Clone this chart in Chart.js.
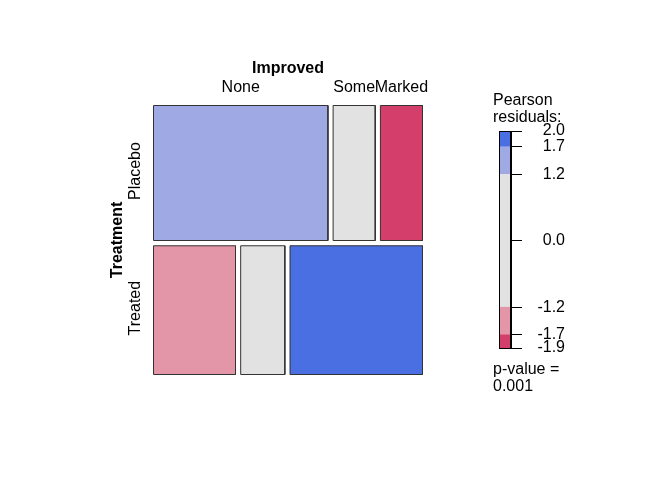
<!DOCTYPE html>
<html>
<head>
<meta charset="utf-8">
<script src="https://cdn.jsdelivr.net/npm/chart.js@4.4.1/dist/chart.umd.min.js"></script>
<style>
  html, body { margin: 0; padding: 0; background: #fff; }
  #wrap { position: relative; width: 672px; height: 480px; }
  #mosaic { position: absolute; left: 0; top: 0; }
  #legendBar { position: absolute; left: 499px; top: 111px; }
  .note { position: absolute; left: 493px; font: 16px "Liberation Sans", Arial, sans-serif; line-height: 17px; color: #000; }
</style>
</head>
<body>
<div id="wrap">
  <canvas id="mosaic" width="672" height="480"></canvas>
  <canvas id="legendBar" width="66" height="257"></canvas>
  <div class="note" style="top:91px">Pearson<br>residuals:</div>
  <div class="note" style="top:360px">p-value =<br>0.001</div>
</div>
<script>
// --- data ---
const treatments = ['Placebo', 'Treated'];
const improved = ['None', 'Some', 'Marked'];
const placeboCounts = [29, 7, 7];
const treatedCounts = [13, 7, 21];
const residualCuts = [1.2, 1.7];

const FONT = '"Liberation Sans", Arial, sans-serif';
Chart.defaults.font.family = FONT;
Chart.defaults.color = '#000';

const GAP = 0.02;
const rows = [placeboCounts, treatedCounts];
const rowTotals = rows.map(r => r.reduce((a, b) => a + b, 0));
const colTotals = improved.map((_, j) => rows.reduce((a, r) => a + r[j], 0));
const grand = rowTotals.reduce((a, b) => a + b, 0);

// pearson residuals
const resid = rows.map((r, i) => r.map((n, j) => {
    const e = rowTotals[i] * colTotals[j] / grand;
    return (n - e) / Math.sqrt(e);
}));
const flat = resid.flat();
const resMax = Math.max(...flat), resMin = Math.min(...flat);

const shade = r => {
    const a = Math.abs(r);
    if (a >= residualCuts[1]) return r > 0 ? '#4A6FE3' : '#D33F6A';
    if (a >= residualCuts[0]) return r > 0 ? '#9FA9E3' : '#E396A8';
    return '#E2E2E2';
};

// --- mosaic tiles ---
const tiles = [];
let y0 = 0;
rows.forEach((r, i) => {
    const h = rowTotals[i] / grand;
    let x0 = 0;
    r.forEach((n, j) => {
        const w = n / rowTotals[i];
        tiles.push({ row: i, col: j, x0, x1: x0 + w, y0, y1: y0 + h, color: shade(resid[i][j]) });
        x0 += w + GAP;
    });
    y0 += h + GAP;
});

const labelPlugin = {
    id: 'mosaicLabels',
    afterDraw(chart) {
        const { ctx, chartArea, scales } = chart;
        const xs = scales.x, ys = scales.y;
        ctx.save();
        ctx.fillStyle = '#000';
        ctx.textAlign = 'center';
        ctx.textBaseline = 'middle';
        ctx.font = 'bold 16px ' + FONT;
        ctx.fillText('Improved', (chartArea.left + chartArea.right) / 2, chartArea.top - 37);
        ctx.font = '16px ' + FONT;
        tiles.filter(t => t.row === 0).forEach(t => {
            ctx.fillText(improved[t.col], xs.getPixelForValue((t.x0 + t.x1) / 2), chartArea.top - 18);
        });
        // rotated row labels
        const rot = (txt, x, y) => {
            ctx.save();
            ctx.translate(x, y);
            ctx.rotate(-Math.PI / 2);
            ctx.fillText(txt, 0, 0);
            ctx.restore();
        };
        tiles.filter(t => t.col === 0).forEach(t => {
            rot(treatments[t.row], chartArea.left - 18, ys.getPixelForValue((t.y0 + t.y1) / 2) - 2);
        });
        ctx.font = 'bold 16px ' + FONT;
        rot('Treatment', chartArea.left - 36, (chartArea.top + chartArea.bottom) / 2);
        ctx.restore();
    }
};

new Chart(document.getElementById('mosaic'), {
    type: 'line',
    data: {
        datasets: tiles.map(t => ({
            data: [
                { x: t.x0, y: t.y0 }, { x: t.x1, y: t.y0 },
                { x: t.x1, y: t.y1 }, { x: t.x0, y: t.y1 }, { x: t.x0, y: t.y0 }
            ],
            backgroundColor: t.color,
            borderColor: '#333',
            borderWidth: 1,
            fill: 'shape',
            tension: 0,
            pointRadius: 0,
            clip: false
        }))
    },
    options: {
        responsive: false,
        animation: false,
        events: [],
        layout: { padding: { left: 153.5, right: 249.5, top: 105.5, bottom: 105.5 } },
        plugins: { legend: { display: false }, tooltip: { enabled: false } },
        scales: {
            x: { type: 'linear', display: false, min: 0, max: 1 + 2 * GAP },
            y: { type: 'linear', display: false, min: 0, max: 1 + GAP, reverse: true }
        }
    },
    plugins: [labelPlugin]
});

// --- residual legend ---
const bands = [
    [resMin, -residualCuts[1]], [-residualCuts[1], -residualCuts[0]],
    [-residualCuts[0], residualCuts[0]], [residualCuts[0], residualCuts[1]],
    [residualCuts[1], resMax]
];
const legendTicks = [resMin, -residualCuts[1], -residualCuts[0], 0, residualCuts[0], residualCuts[1], resMax];

const framePlugin = {
    id: 'frame',
    afterDatasetsDraw(chart) {
        const { ctx, chartArea: a } = chart;
        ctx.save();
        ctx.strokeStyle = '#000';
        ctx.lineWidth = 1;
        ctx.strokeRect(Math.round(a.left) + 0.5, Math.round(a.top) + 0.5,
            Math.round(a.right - a.left) - 1, Math.round(a.bottom - a.top));
        ctx.restore();
    }
};

new Chart(document.getElementById('legendBar'), {
    type: 'bar',
    data: {
        labels: [''],
        datasets: bands.map(b => {
            const mid = (b[0] + b[1]) / 2;
            return {
                data: [b],
                backgroundColor: shade(mid === 0 ? 0 : Math.sign(mid) * (Math.min(Math.abs(b[0]), Math.abs(b[1])) + 1e-6)),
                barPercentage: 1,
                categoryPercentage: 1,
                grouped: false,
                borderWidth: 0
            };
        })
    },
    options: {
        responsive: false,
        animation: false,
        events: [],
        layout: { padding: { top: 20, bottom: 20, left: 0, right: 0 } },
        plugins: { legend: { display: false }, tooltip: { enabled: false } },
        scales: {
            x: { display: false },
            y: {
                position: 'right',
                min: resMin,
                max: resMax,
                grid: { drawOnChartArea: false, tickLength: 11, color: '#000' },
                border: { display: true, color: '#000' },
                ticks: {
                    autoSkip: false,
                    color: '#000',
                    padding: 6,
                    crossAlign: 'far',
                    font: { size: 16 },
                    callback: v => v.toFixed(1)
                },
                afterBuildTicks: axis => { axis.ticks = legendTicks.map(v => ({ value: v })); },
                afterFit: axis => { axis.width = 54; }
            }
        }
    },
    plugins: [framePlugin]
});
</script>
</body>
</html>
